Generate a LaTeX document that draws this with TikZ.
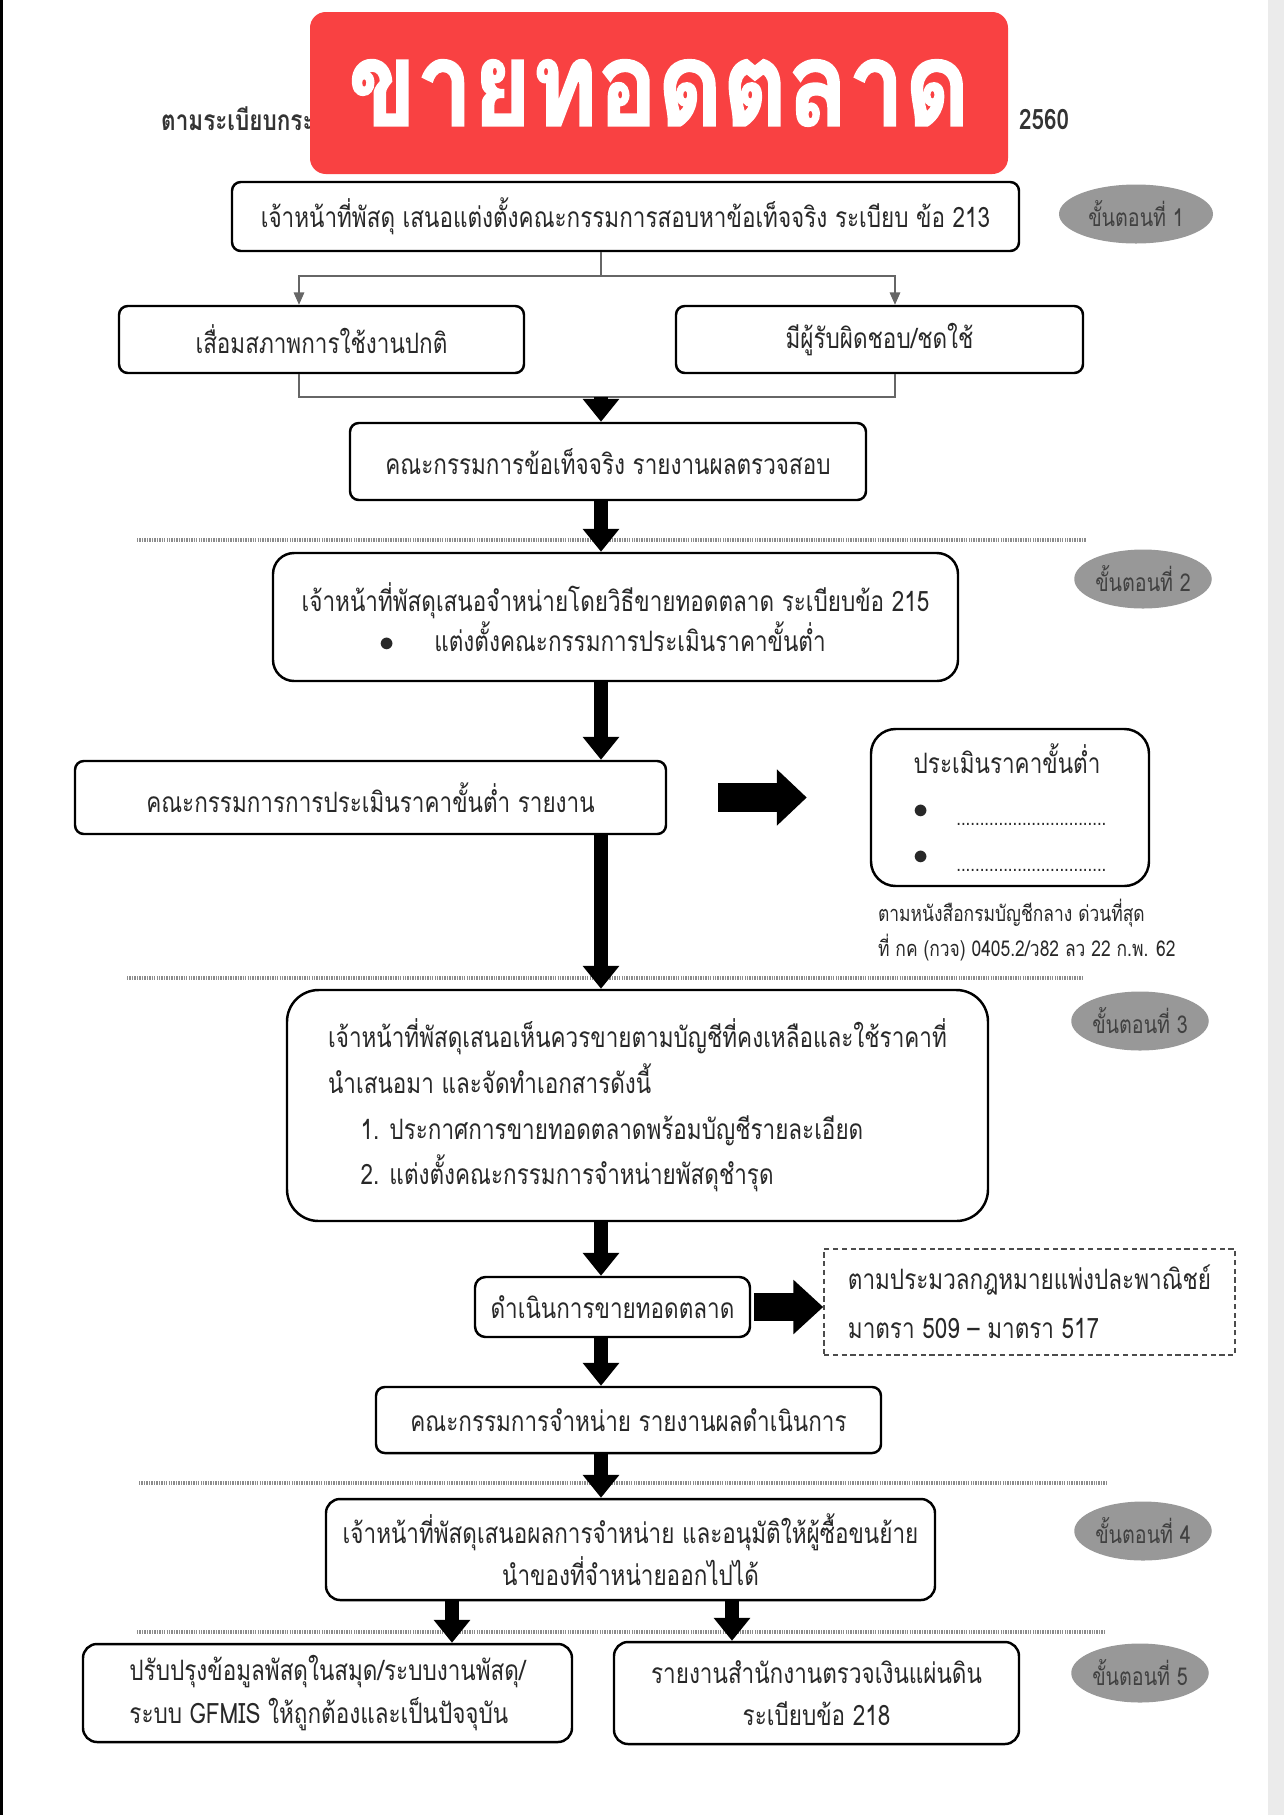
\documentclass[tikz,border=0pt]{standalone}
\usepackage{fontspec}
\setmainfont{Loma}[Script=Thai, FakeStretch=0.8]
\newfontfamily\bannerfont{Loma}[Script=Thai, FakeStretch=0.85, FakeBold=1.5]
\usetikzlibrary{arrows.meta,shapes.geometric,positioning}
\definecolor{bannerred}{RGB}{249,65,66}
\definecolor{stepgray}{RGB}{152,152,152}
\definecolor{ink}{RGB}{40,40,40}

\begin{document}
\begin{tikzpicture}[>=Stealth, every node/.style={font=\fontsize{16}{24}\selectfont, text=ink},
  box/.style={draw=black, line width=1.4pt, rounded corners=5pt, align=center, inner sep=0pt},
  stepoval/.style={ellipse, fill=stepgray, minimum width=2.75cm, minimum height=1.18cm,
                   inner sep=0pt, font=\fontsize{14}{15}\selectfont, text=black!75},
  bigarrow/.style={line width=8pt, -{Triangle[width=20pt,length=13pt]}},
  blockarrow/.style={line width=17pt, -{Triangle[width=31pt,length=17pt]}},
  forkline/.style={draw=black!60, line width=0.7pt},
  divider/.style={draw=black!45, line width=1.8pt, dash pattern=on 0.8pt off 0.6pt}]
  \useasboundingbox (0,0) rectangle (25.68,-36.3);
  % page edges of the scan
  \fill[black!8] (25.35,0) rectangle (25.68,-36.3);
  \draw[line width=1.5pt] (0.03,0) -- (0.03,-36.3);
  % column of the main arrows
  \coordinate (spine) at (12.02,0);
  \coordinate (leftcol) at (9.04,0);
  \coordinate (rightcol) at (14.64,0);

  % Header and banner
  \node[anchor=west, font=\bfseries\fontsize{16}{18}\selectfont, text=black!80] (hdl) at (3.1,-2.38) {ตามระเบียบกระ};
  \node[anchor=west, font=\bfseries\fontsize{16}{18}\selectfont, text=black!80] (hdr) at (20.26,-2.38) {2560};
  \node[fill=bannerred, rounded corners=9pt, minimum width=13.96cm, minimum height=3.24cm,
        text=white, font=\bannerfont\bfseries\fontsize{67}{68}\selectfont] (banner) at (13.18,-1.86) {ขายทอดตลาด};

  % Step 1
  \node[box, minimum width=15.74cm, minimum height=1.38cm] (inquiry) at (12.51,-4.33)
    {เจ้าหน้าที่พัสดุ เสนอแต่งตั้งคณะกรรมการสอบหาข้อเท็จจริง ระเบียบ ข้อ 213};
  \node[stepoval, minimum width=3.08cm] (step1) at (22.72,-4.28) {ขั้นตอนที่ 1};
  \node[box, minimum width=8.1cm, minimum height=1.34cm] (wear) at (6.43,-6.79) {เสื่อมสภาพการใช้งานปกติ};
  \node[box, minimum width=8.14cm, minimum height=1.34cm] (owner) at (17.59,-6.79) {มีผู้รับผิดชอบ/ชดใช้};
  \node[box, minimum width=10.32cm, minimum height=1.54cm] (factrep) at (12.16,-9.23)
    {คณะกรรมการข้อเท็จจริง รายงานผลตรวจสอบ};
  \coordinate (forkL) at (5.98,-5.52);
  \coordinate (forkR) at (17.9,-5.52);
  \coordinate (joinL) at (5.98,-7.94);
  \coordinate (joinR) at (17.9,-7.94);
  \draw[forkline] (inquiry.south -| spine) -- (forkL -| spine);
  \draw[forkline, -{Triangle[width=6pt,length=7pt]}] (forkL -| spine) -- (forkL) -- (forkL |- wear.north);
  \draw[forkline, -{Triangle[width=6pt,length=7pt]}] (forkL -| spine) -- (forkR) -- (forkR |- owner.north);
  \draw[forkline] (joinL |- wear.south) -- (joinL) -- (joinR) -- (joinR |- owner.south);
  \draw[bigarrow] (joinL -| spine) -- (factrep.north -| spine);

  % Step 2
  \draw[divider] (2.74,-10.8) -- (21.72,-10.8);
  \node[box, rounded corners=12pt, minimum width=13.7cm, minimum height=2.56cm, align=left,
        font=\fontsize{16}{23}\selectfont] (proposal) at (12.31,-12.34)
    {เจ้าหน้าที่พัสดุเสนอจำหน่ายโดยวิธีขายทอดตลาด ระเบียบข้อ 215\\
     \hspace{1.55cm}$\bullet$\hspace{0.8cm}แต่งตั้งคณะกรรมการประเมินราคาขั้นต่ำ};
  \node[stepoval] (step2) at (22.86,-11.58) {ขั้นตอนที่ 2};
  \node[box, minimum width=11.82cm, minimum height=1.46cm] (minrep) at (7.41,-15.95)
    {คณะกรรมการการประเมินราคาขั้นต่ำ รายงาน};
  \node[box, rounded corners=14pt, minimum width=5.56cm, minimum height=3.14cm, align=left,
        font=\fontsize{16}{26}\selectfont] (minbox) at (20.2,-16.15)
    {ประเมินราคาขั้นต่ำ\\
     $\bullet$\hspace{0.55cm}\raisebox{-4pt}{\fontsize{12}{12}\selectfont ................................}\\
     $\bullet$\hspace{0.55cm}\raisebox{-4pt}{\fontsize{12}{12}\selectfont ................................}};
  \node[below right=0.22cm and 0.16cm of minbox.south west, anchor=north west, align=left,
        inner sep=0pt, font=\fontsize{12.4}{20}\selectfont] (circular)
    {ตามหนังสือกรมบัญชีกลาง ด่วนที่สุด\\ที่ กค (กวจ) 0405.2/ว82 ลว 22 ก.พ. 62};
  \draw[bigarrow] (factrep.south -| spine) -- (proposal.north -| spine);
  \draw[bigarrow] (proposal.south -| spine) -- (minrep.north -| spine);
  \draw[blockarrow, shorten <=1.02cm, shorten >=1.26cm] (minrep.east) -- (minrep.east -| minbox.west);

  % Step 3
  \draw[divider] (2.54,-19.56) -- (21.66,-19.56);
  \node[box, rounded corners=18pt, minimum width=14.02cm, minimum height=4.62cm, align=left,
        font=\fontsize{16}{26}\selectfont] (approval) at (12.75,-22.11)
    {เจ้าหน้าที่พัสดุเสนอเห็นควรขายตามบัญชีที่คงเหลือและใช้ราคาที่\\
     นำเสนอมา และจัดทำเอกสารดังนี้\\
     \hspace{0.65cm}1. ประกาศการขายทอดตลาดพร้อมบัญชีรายละเอียด\\
     \hspace{0.65cm}2. แต่งตั้งคณะกรรมการจำหน่ายพัสดุชำรุด};
  \node[stepoval] (step3) at (22.8,-20.42) {ขั้นตอนที่ 3};
  \node[box, rounded corners=6pt, minimum width=5.5cm, minimum height=1.2cm] (sale) at (12.25,-26.14)
    {ดำเนินการขายทอดตลาด};
  \node[draw=black!70, line width=0.9pt, dash pattern=on 3pt off 2pt, minimum width=8.22cm,
        minimum height=2.12cm, align=left, font=\fontsize{16}{28}\selectfont] (law) at (20.59,-26.04)
    {ตามประมวลกฎหมายแพ่งปละพาณิชย์\\มาตรา 509 -- มาตรา 517};
  \node[box, minimum width=10.1cm, minimum height=1.32cm] (salerep) at (12.57,-28.4)
    {คณะกรรมการจำหน่าย รายงานผลดำเนินการ};
  \draw[bigarrow] (minrep.south -| spine) -- (approval.north -| spine);
  \draw[bigarrow] (approval.south -| spine) -- (sale.north -| spine);
  \draw[blockarrow, line width=16pt, -{Triangle[width=30pt,length=17pt]}, shorten <=0.06cm]
    (sale.east) -- (sale.east -| law.west);
  \draw[bigarrow] (sale.south -| spine) -- (salerep.north -| spine);

  % Step 4
  \draw[divider] (2.78,-29.66) -- (22.12,-29.66);
  \node[box, rounded corners=8pt, minimum width=12.18cm, minimum height=2.02cm] (result) at (12.61,-30.99)
    {เจ้าหน้าที่พัสดุเสนอผลการจำหน่าย และอนุมัติให้ผู้ซื้อขนย้าย\\นำของที่จำหน่ายออกไปได้};
  \node[stepoval] (step4) at (22.86,-30.62) {ขั้นตอนที่ 4};
  \draw[bigarrow] (salerep.south -| spine) -- (result.north -| spine);

  % Step 5
  \draw[divider] (2.74,-32.64) -- (22.12,-32.64);
  \node[box, rounded corners=8pt, minimum width=9.78cm, minimum height=1.96cm, align=left] (update) at (6.55,-33.86)
    {ปรับปรุงข้อมูลพัสดุในสมุด/ระบบงานพัสดุ/\\ระบบ GFMIS ให้ถูกต้องและเป็นปัจจุบัน};
  \node[box, rounded corners=8pt, minimum width=8.1cm, minimum height=2.04cm] (audit) at (16.33,-33.86)
    {รายงานสำนักงานตรวจเงินแผ่นดิน\\ระเบียบข้อ 218};
  \node[stepoval] (step5) at (22.8,-33.46) {ขั้นตอนที่ 5};
  \draw[bigarrow] (result.south -| leftcol) -- (update.north -| leftcol);
  \draw[bigarrow] (result.south -| rightcol) -- (audit.north -| rightcol);
\end{tikzpicture}
\end{document}
